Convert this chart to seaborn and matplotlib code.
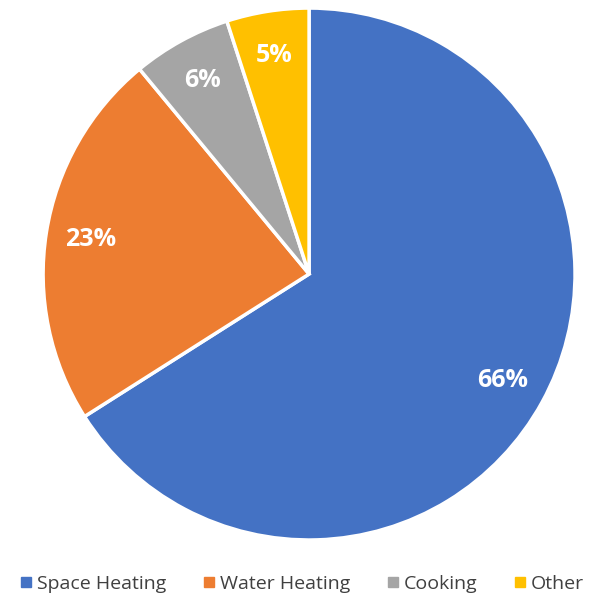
import matplotlib
matplotlib.use("Agg")
import matplotlib.pyplot as plt
import seaborn as sns
from matplotlib.lines import Line2D

# data
categories = ["Space Heating", "Water Heating", "Cooking", "Other"]
shares = [66, 23, 6, 5]
colors = ["#4472C4", "#ED7D31", "#A5A5A5", "#FFC000"]

sns.set_theme(style="white")
plt.rcParams['font.family'] = ['Open Sans', 'DejaVu Sans']

fig = plt.figure(figsize=(6.02, 5.97), dpi=100)
ax = fig.add_axes([0.0714, 0.0955, 0.884, 0.891])

wedges, texts, autotexts = ax.pie(
    shares, colors=sns.color_palette(colors), startangle=90, counterclock=False,
    autopct=lambda p: f"{p:.0f}%", pctdistance=0.83,
    wedgeprops=dict(edgecolor="white", linewidth=2.5),
    textprops=dict(color="white", fontsize=18, fontweight="bold"))
ax.set_xlim(-1, 1)
ax.set_ylim(-1, 1)
ax.set_aspect("equal")

# legend with small square markers
handles = [Line2D([0], [0], marker="s", linestyle="", markersize=7,
                  markerfacecolor=c, markeredgecolor=c) for c in colors]
fig.legend(handles, categories, loc="center", bbox_to_anchor=(0.5, 0.022),
           ncol=4, frameon=False, fontsize=14, handletextpad=0.15,
           columnspacing=1.8, handlelength=0.8, labelcolor="#404040")

fig.savefig("out.png", dpi=100)
